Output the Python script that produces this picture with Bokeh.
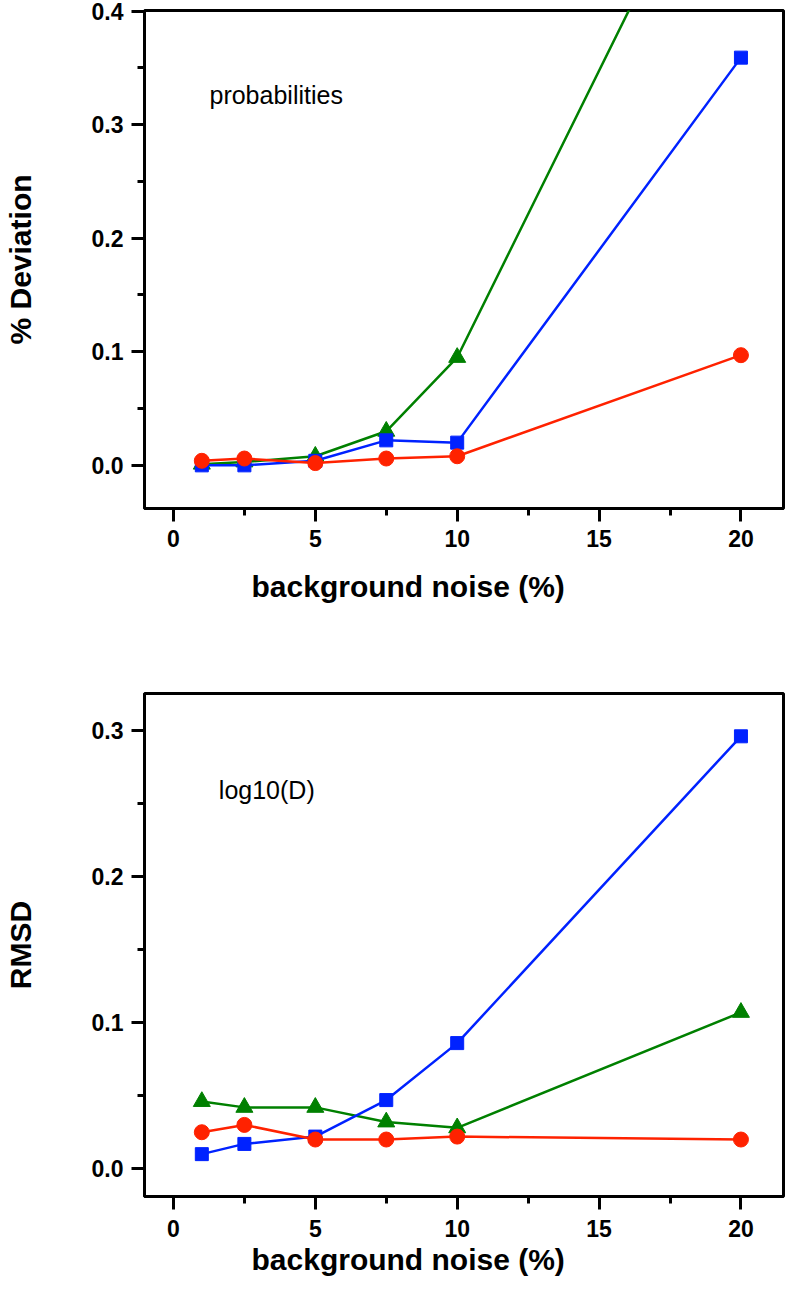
from bokeh.plotting import figure
from bokeh.layouts import column
from bokeh.models import SingleIntervalTicker, PrintfTickFormatter, Range1d, Label, Title
from bokeh.embed import file_html
from bokeh.resources import INLINE

# ---- data ----
noise = [1, 2.5, 5, 7.5, 10, 20]

prob_blue = [0.000, 0.000, 0.004, 0.022, 0.020, 0.359]
prob_green = [0.001, 0.003, 0.008, 0.030, 0.095, 0.600]
prob_red = [0.004, 0.006, 0.002, 0.006, 0.008, 0.097]

logd_blue = [0.010, 0.017, 0.022, 0.047, 0.086, 0.296]
logd_green = [0.046, 0.042, 0.042, 0.032, 0.028, 0.107]
logd_red = [0.025, 0.030, 0.020, 0.020, 0.022, 0.020]

panel_texts = ["probabilities", "log10(D)"]
y_titles = ["% Deviation", "RMSD"]
x_title = "background noise (%)"

BLUE = "#0022FF"
GREEN = "#008000"
RED = "#FF2200"
FONT = "Liberation Sans"


def make_panel(yr, blue, green, red, ytitle, ptext, ptext_xy,
               top_border, frame_h, bottom_border, title_standoff, xlab_standoff):
    p = figure(width=785, height=top_border + frame_h + bottom_border,
               x_range=Range1d(-1.02, 21.5), y_range=Range1d(*yr),
               output_backend="svg", toolbar_location=None,
               min_border_left=142, min_border_right=2,
               min_border_top=top_border, min_border_bottom=bottom_border)
    p.grid.visible = False
    p.outline_line_color = "black"
    p.outline_line_width = 3
    p.background_fill_color = "white"
    p.border_fill_color = "white"

    p.xaxis.ticker = SingleIntervalTicker(interval=5, num_minor_ticks=2)
    p.yaxis.ticker = SingleIntervalTicker(interval=0.1, num_minor_ticks=2)
    p.yaxis.formatter = PrintfTickFormatter(format="%.1f")
    for ax in (p.xaxis, p.yaxis):
        ax.axis_line_width = 3
        ax.axis_line_color = "black"
        ax.major_tick_line_width = 3
        ax.minor_tick_line_width = 3
        ax.major_tick_out = 13
        ax.major_tick_in = 0
        ax.minor_tick_out = 7
        ax.minor_tick_in = 0
        ax.major_label_text_font = FONT
        ax.major_label_text_font_style = "bold"
        ax.major_label_text_font_size = "23px"
        ax.major_label_text_color = "black"
        ax.major_label_standoff = 8
        ax.axis_label_text_font = FONT
        ax.axis_label_text_font_style = "bold"
        ax.axis_label_text_font_size = "30px"
        ax.axis_label_text_color = "black"
    p.xaxis.major_label_standoff = xlab_standoff

    p.yaxis.axis_label = ytitle
    p.yaxis.axis_label_standoff = 52

    p.add_layout(Title(text=x_title, align="left", offset=107,
                       vertical_align="top", standoff=title_standoff,
                       text_font=FONT, text_font_style="bold",
                       text_font_size="30px", text_color="black"), "below")

    for ys, col, marker, size in ((green, GREEN, "triangle", 17),
                                  (blue, BLUE, "square", 13),
                                  (red, RED, "circle", 15)):
        p.line(noise, ys, line_color=col, line_width=2.5)
        p.scatter(noise, ys, marker=marker, size=size, fill_color=col, line_color=col)

    p.add_layout(Label(x=ptext_xy[0], y=ptext_xy[1], text=ptext,
                       text_font=FONT, text_font_size="25px", text_color="black",
                       text_baseline="alphabetic"))
    return p


p1 = make_panel((-0.038, 0.4005), prob_blue, prob_green, prob_red,
                y_titles[0], panel_texts[0], (1.27, 0.326),
                10, 498, 125, 40, 8)
p2 = make_panel((-0.019, 0.3253), logd_blue, logd_green, logd_red,
                y_titles[1], panel_texts[1], (1.6, 0.2595),
                60, 503, 94, 7, 10)

layout = column(p1, p2, spacing=0)
open("out.html", "w").write(file_html(layout, INLINE))
